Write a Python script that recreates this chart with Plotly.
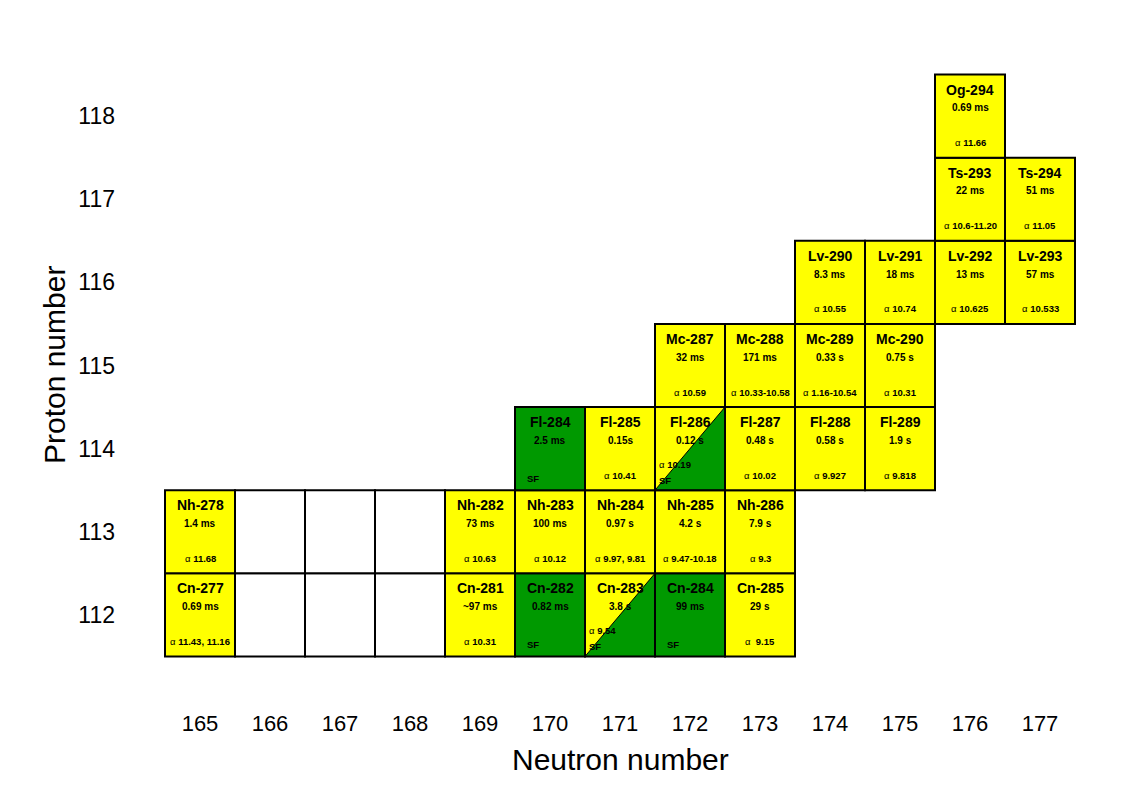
import plotly.graph_objects as go

# nuclide data: neutron number, proton number, label, half-life, alpha energy, decay type
neutrons = [165, 169, 170, 171, 172, 173,
            165, 169, 170, 171, 172, 173,
            170, 171, 172, 173, 174, 175,
            172, 173, 174, 175,
            174, 175, 176, 177,
            176, 177,
            176]
protons = [112, 112, 112, 112, 112, 112,
           113, 113, 113, 113, 113, 113,
           114, 114, 114, 114, 114, 114,
           115, 115, 115, 115,
           116, 116, 116, 116,
           117, 117,
           118]
names = ["Cn-277", "Cn-281", "Cn-282", "Cn-283", "Cn-284", "Cn-285",
         "Nh-278", "Nh-282", "Nh-283", "Nh-284", "Nh-285", "Nh-286",
         "Fl-284", "Fl-285", "Fl-286", "Fl-287", "Fl-288", "Fl-289",
         "Mc-287", "Mc-288", "Mc-289", "Mc-290",
         "Lv-290", "Lv-291", "Lv-292", "Lv-293",
         "Ts-293", "Ts-294",
         "Og-294"]
half_lives = ["0.69 ms", "~97 ms", "0.82 ms", "3.8 s", "99 ms", "29 s",
              "1.4 ms", "73 ms", "100 ms", "0.97 s", "4.2 s", "7.9 s",
              "2.5 ms", "0.15s", "0.12 s", "0.48 s", "0.58 s", "1.9 s",
              "32 ms", "171 ms", "0.33 s", "0.75 s",
              "8.3 ms", "18 ms", "13 ms", "57 ms",
              "22 ms", "51 ms",
              "0.69 ms"]
alphas = ["11.43, 11.16", "10.31", "", "9.54", "", " 9.15",
          "11.68", "10.63", "10.12", "9.97, 9.81", "9.47-10.18", "9.3",
          "", "10.41", "10.19", "10.02", "9.927", "9.818",
          "10.59", "10.33-10.58", "1.16-10.54", "10.31",
          "10.55", "10.74", "10.625", "10.533",
          "10.6-11.20", "11.05",
          "11.66"]
decays = ["a", "a", "sf", "mix", "sf", "a",
          "a", "a", "a", "a", "a", "a",
          "sf", "a", "mix", "a", "a", "a",
          "a", "a", "a", "a",
          "a", "a", "a", "a",
          "a", "a",
          "a"]

# unobserved cells (white boxes)
empty_n = [166, 167, 168, 166, 167, 168]
empty_z = [112, 112, 112, 113, 113, 113]

n_ticks = list(range(165, 178))
z_ticks = list(range(112, 119))

YELLOW = "#ffff00"
GREEN = "#009900"
FONT = "Arial, Liberation Sans, sans-serif"

shapes = []
annotations = []

for n, z in zip(empty_n, empty_z):
    shapes.append(dict(type="rect", xref="x", yref="y", x0=n - 0.5, x1=n + 0.5,
                       y0=z - 0.5, y1=z + 0.5, fillcolor="white",
                       line=dict(color="black", width=2), layer="below"))

for n, z, nm, hl, al, d in zip(neutrons, protons, names, half_lives, alphas, decays):
    fill = GREEN if d == "sf" else YELLOW
    shapes.append(dict(type="rect", xref="x", yref="y", x0=n - 0.5, x1=n + 0.5,
                       y0=z - 0.5, y1=z + 0.5, fillcolor=fill,
                       line=dict(width=0), layer="below"))
    if d == "mix":
        path = "M {},{} L {},{} L {},{} Z".format(n - 0.5, z - 0.5, n + 0.5, z + 0.5,
                                                  n + 0.5, z - 0.5)
        shapes.append(dict(type="path", xref="x", yref="y", path=path,
                           fillcolor=GREEN, line=dict(color="black", width=1),
                           layer="below"))
    shapes.append(dict(type="rect", xref="x", yref="y", x0=n - 0.5, x1=n + 0.5,
                       y0=z - 0.5, y1=z + 0.5, fillcolor="rgba(0,0,0,0)",
                       line=dict(color="black", width=2), layer="below"))

    annotations.append(dict(x=n, y=z + 0.32, text="<b>%s</b>" % nm, showarrow=False,
                            font=dict(size=14, color="black", family=FONT)))
    annotations.append(dict(x=n, y=z + 0.10, text="<b>%s</b>" % hl, showarrow=False,
                            font=dict(size=10, color="black", family=FONT)))
    if d == "a":
        annotations.append(dict(x=n, y=z - 0.32, text="α <b>%s</b>" % al, showarrow=False,
                                font=dict(size=9.5, color="black", family=FONT)))
    elif d == "sf":
        annotations.append(dict(x=n - 0.36, y=z - 0.36, text="<b>SF</b>", showarrow=False,
                                xanchor="left",
                                font=dict(size=9.5, color="black", family=FONT)))
    else:
        annotations.append(dict(x=n - 0.47, y=z - 0.19, text="α <b>%s</b>" % al,
                                showarrow=False, xanchor="left",
                                font=dict(size=9.5, color="black", family=FONT)))
        annotations.append(dict(x=n - 0.47, y=z - 0.38, text="<b>SF</b>", showarrow=False,
                                xanchor="left",
                                font=dict(size=9.5, color="black", family=FONT)))

# axis titles
annotations.append(dict(xref="paper", yref="paper", x=0.5, y=-0.093, text="Neutron number",
                        showarrow=False, yanchor="middle",
                        font=dict(size=30, color="black", family=FONT)))
annotations.append(dict(xref="paper", yref="paper", x=-0.077, y=0.5, text="Proton number",
                        showarrow=False, textangle=-90, xanchor="center",
                        font=dict(size=30, color="black", family=FONT)))

fig = go.Figure()
fig.add_trace(go.Scatter(x=neutrons, y=protons, mode="markers",
                         marker=dict(size=1, opacity=0), text=names,
                         hoverinfo="text", showlegend=False))

fig.update_layout(
    width=1136,
    height=795,
    margin=dict(l=122, r=34, t=25, b=105),
    paper_bgcolor="white",
    plot_bgcolor="white",
    shapes=shapes,
    annotations=annotations,
    showlegend=False,
    font=dict(family=FONT, color="black"),
)
fig.update_xaxes(range=[164, 178], tickvals=n_ticks, showgrid=False, zeroline=False,
                 showline=False, ticks="", ticklabelstandoff=10,
                 tickfont=dict(size=22, color="black"))
fig.update_yaxes(range=[111, 119], tickvals=z_ticks, showgrid=False, zeroline=False,
                 showline=False, ticks="", ticklabelstandoff=14,
                 tickfont=dict(size=23, color="black"))

fig.write_html("out.html")
